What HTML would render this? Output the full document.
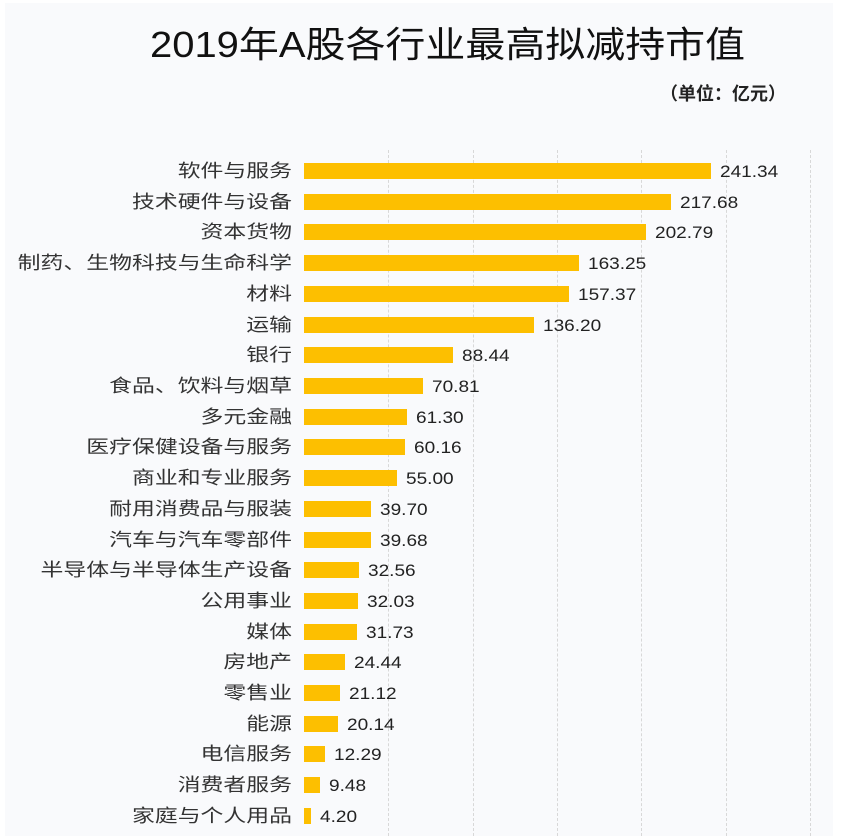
<!DOCTYPE html>
<html><head><meta charset="utf-8"><style>
body{margin:0;background:#fff;}
#c{position:relative;width:855px;height:836px;overflow:hidden;font-family:"Liberation Sans","Noto Sans CJK SC",sans-serif;}
#card{position:absolute;left:5px;top:3px;width:828px;height:833px;background:#f9fafc;}
.t{position:absolute;left:0;width:895px;top:16px;text-align:center;font-size:36px;color:#111;transform:scaleX(1.11);transform-origin:447px 0;}
.u{position:absolute;left:660px;top:80px;font-size:18px;font-weight:bold;color:#222;}
.g{position:absolute;top:150px;height:686px;border-left:1px dashed #d8d8d8;}
.l{position:absolute;right:563px;font-size:18px;color:#333;white-space:nowrap;line-height:20px;transform:scaleX(1.27);transform-origin:100% 50%;}
.b{position:absolute;left:304px;height:16px;background:#fdbf00;}
.v{position:absolute;font-size:17px;color:#222;line-height:20px;transform:scaleX(1.12);transform-origin:0 50%;}
</style></head><body><div id="c"><div id="card"></div>
<div class="t">2019年A股各行业最高拟减持市值</div>
<div class="u">（单位：亿元）</div>
<div id="rows"></div>
</div>
<script>
var d=[["软件与服务",241.34],["技术硬件与设备",217.68],["资本货物",202.79],["制药、生物科技与生命科学",163.25],["材料",157.37],["运输",136.20],["银行",88.44],["食品、饮料与烟草",70.81],["多元金融",61.30],["医疗保健设备与服务",60.16],["商业和专业服务",55.00],["耐用消费品与服装",39.70],["汽车与汽车零部件",39.68],["半导体与半导体生产设备",32.56],["公用事业",32.03],["媒体",31.73],["房地产",24.44],["零售业",21.12],["能源",20.14],["电信服务",12.29],["消费者服务",9.48],["家庭与个人用品",4.20]];
var h="";
for(var k=1;k<=6;k++)h+='<div class="g" style="left:'+(304+84.3*k)+'px"></div>';
d.forEach(function(r,i){var y=171+i*30.71;var w=r[1]*1.686;
h+='<div class="l" style="top:'+(y-10)+'px">'+r[0]+'</div><div class="b" style="top:'+(y-8)+'px;width:'+w+'px"></div><div class="v" style="top:'+(y-9)+'px;left:'+(304+w+9)+'px">'+r[1].toFixed(2)+'</div>';});
document.getElementById("rows").innerHTML=h;
</script></body></html>
